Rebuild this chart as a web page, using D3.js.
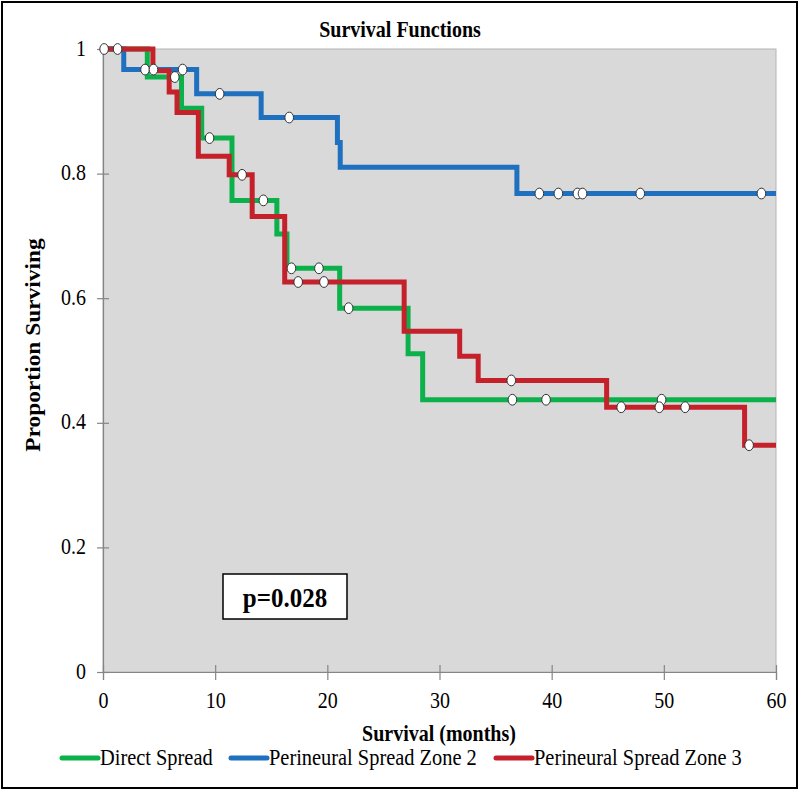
<!DOCTYPE html>
<html>
<head>
<meta charset="utf-8">
<script src="https://cdn.jsdelivr.net/npm/d3@7"></script>
<style>
  html, body { margin: 0; padding: 0; background: #fff; }
  svg { display: block; }
  text { font-family: "Liberation Serif", "Times New Roman", serif; fill: #000; }
</style>
</head>
<body>
<svg id="chart" width="800" height="791"></svg>
<script>
// ---------- DATA ----------
const seriesNames = ["Direct Spread", "Perineural Spread Zone 2", "Perineural Spread Zone 3"];
const seriesColors = ["#0db14b", "#1f70bf", "#c4212b"];

// step times (months) and survival proportion after each step
const directTimes  = [0, 3.95, 7.0, 8.8, 11.5, 15.5, 16.4, 21.1, 27.2, 28.5];
const directSurv   = [1, 0.955, 0.905, 0.857, 0.757, 0.703, 0.648, 0.584, 0.511, 0.437];
const directCensor = [1.3, 6.4, 9.5, 14.3, 16.8, 19.25, 21.9, 36.5, 39.5, 49.8];

const zone2Times  = [0, 1.85, 8.35, 14.1, 20.9, 21.15, 36.9];
const zone2Surv   = [1, 0.967, 0.928, 0.89, 0.85, 0.81, 0.768];
const zone2Censor = [3.75, 4.5, 7.1, 10.4, 16.6, 38.9, 40.6, 42.3, 42.75, 47.9, 58.7];

const zone3Times  = [0, 4.45, 5.9, 6.6, 8.5, 11.25, 13.3, 16.2, 26.85, 31.8, 33.45, 44.9, 57.2];
const zone3Surv   = [1, 0.965, 0.931, 0.898, 0.828, 0.798, 0.731, 0.626, 0.547, 0.507, 0.468, 0.425, 0.364];
const zone3Censor = [0.1, 12.4, 17.4, 19.7, 36.4, 46.2, 49.6, 51.9, 57.6];

const xTicks = [0, 10, 20, 30, 40, 50, 60];
const yTicks = [0, 0.2, 0.4, 0.6, 0.8, 1];
const xMax = 60;

const titleText = "Survival Functions";
const xTitle = "Survival (months)";
const yTitle = "Proportion Surviving";
const pText = "p=0.028";

// ---------- CHART ----------
const svg = d3.select("#chart");
const SY = 1.13; // vertical stretch of text as in reference

const x = d3.scaleLinear().domain([0, xMax]).range([103, 776]);
const y = d3.scaleLinear().domain([0, 1]).range([672, 49]);

// outer frame
svg.append("rect").attr("x", 2).attr("y", 2).attr("width", 795).attr("height", 786)
  .attr("fill", "#fff").attr("stroke", "#000").attr("stroke-width", 2);

// plot area
svg.append("rect")
  .attr("x", x(0)).attr("y", y(1))
  .attr("width", x(xMax) - x(0)).attr("height", y(0) - y(1))
  .attr("fill", "#d9d9d9").attr("stroke", "#b4b4b4").attr("stroke-width", 1);

// axes
const axisColor = "#858585";
const yAxis = svg.append("g").attr("transform", `translate(${x(0)},0)`)
  .call(d3.axisLeft(y).tickValues(yTicks).tickSize(6)
    .tickFormat(d => (d === 0 || d === 1) ? String(d) : d.toFixed(1)));
yAxis.select(".domain").attr("stroke", axisColor).attr("stroke-width", 1.2);
yAxis.selectAll(".tick line").attr("x1", -6).attr("x2", 6).attr("stroke", axisColor).attr("stroke-width", 1.2);
yAxis.selectAll(".tick text")
  .attr("x", null).attr("dy", null)
  .attr("transform", `translate(-17,6) scale(1,${SY})`)
  .attr("text-anchor", "end")
  .style("font-family", '"Liberation Serif", serif').style("font-size", "20px");

const xAxis = svg.append("g").attr("transform", `translate(0,${y(0)})`)
  .call(d3.axisBottom(x).tickValues(xTicks).tickSize(8).tickFormat(d3.format("d")));
xAxis.select(".domain").attr("stroke", axisColor).attr("stroke-width", 1.2);
xAxis.selectAll(".tick line").attr("y1", -7).attr("y2", 8).attr("stroke", axisColor).attr("stroke-width", 1.2);
xAxis.selectAll(".tick text")
  .attr("y", null).attr("dy", null)
  .attr("transform", `translate(0,36) scale(1,${SY})`)
  .attr("text-anchor", "middle")
  .style("font-family", '"Liberation Serif", serif').style("font-size", "20px");

// step lines
const series = [
  { name: seriesNames[0], color: seriesColors[0], t: directTimes, s: directSurv, c: directCensor },
  { name: seriesNames[1], color: seriesColors[1], t: zone2Times,  s: zone2Surv,  c: zone2Censor },
  { name: seriesNames[2], color: seriesColors[2], t: zone3Times,  s: zone3Surv,  c: zone3Censor }
];
const line = d3.line().x(d => x(d[0])).y(d => y(d[1])).curve(d3.curveStepAfter);
function pts(sr) {
  const p = sr.t.map((t, i) => [t, sr.s[i]]);
  p.push([xMax, sr.s[sr.s.length - 1]]);
  return p;
}
function survAt(sr, t) {
  let v = sr.s[0];
  for (let i = 0; i < sr.t.length; i++) if (sr.t[i] <= t) v = sr.s[i];
  return v;
}
const drawOrder = [0, 1, 2];
drawOrder.forEach(i => {
  svg.append("path").datum(pts(series[i]))
    .attr("d", line).attr("fill", "none")
    .attr("stroke", series[i].color).attr("stroke-width", 5)
    .attr("stroke-linejoin", "miter").attr("stroke-linecap", "butt");
});
// censor marks
drawOrder.forEach(i => {
  svg.append("g").selectAll("ellipse").data(series[i].c).join("ellipse")
    .attr("cx", d => x(d)).attr("cy", d => y(survAt(series[i], d)))
    .attr("rx", 4.3).attr("ry", 5.4)
    .attr("fill", "#fff").attr("stroke", "#333").attr("stroke-width", 1);
});

// title
svg.append("text").attr("transform", `translate(400,37) scale(1,${SY})`)
  .attr("text-anchor", "middle").style("font-size", "20px").style("font-weight", "bold")
  .text(titleText);

// axis titles
svg.append("text").attr("transform", `translate(439,741) scale(1,${SY})`)
  .attr("text-anchor", "middle").style("font-size", "20px").style("font-weight", "bold")
  .text(xTitle);
svg.append("text").attr("transform", `translate(40,345) rotate(-90) scale(1.17,1)`)
  .attr("text-anchor", "middle").style("font-size", "20px").style("font-weight", "bold")
  .text(yTitle);

// p-value box
svg.append("rect").attr("x", 223).attr("y", 574).attr("width", 124).attr("height", 45)
  .attr("fill", "#fff").attr("stroke", "#000").attr("stroke-width", 1.5);
svg.append("text").attr("transform", `translate(285,607) scale(1,${SY})`)
  .attr("text-anchor", "middle").style("font-size", "25px").style("font-weight", "bold")
  .text(pText);

// legend
const legendX = [62, 231, 496];
series.forEach((sr, i) => {
  const g = svg.append("g").attr("transform", `translate(${legendX[i]},758)`);
  g.append("line").attr("x1", 0).attr("x2", 36).attr("y1", 0).attr("y2", 0)
    .attr("stroke", sr.color).attr("stroke-width", 5).attr("stroke-linecap", "round");
  g.append("text").attr("transform", `translate(38,7) scale(1,${SY})`)
    .style("font-size", "20.4px").text(sr.name);
});
</script>
</body>
</html>
